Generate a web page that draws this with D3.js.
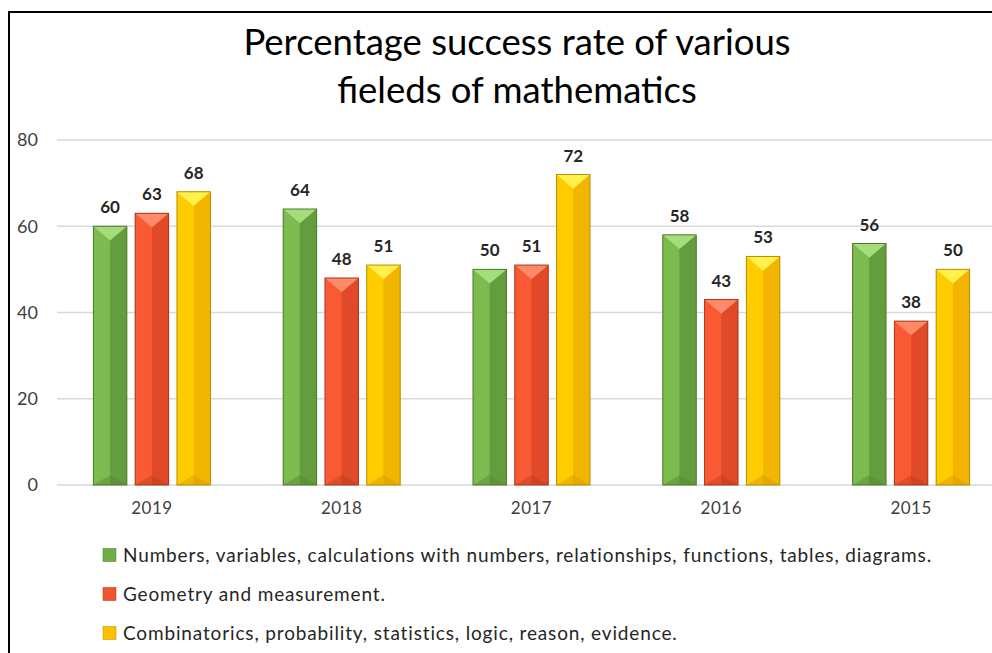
<!DOCTYPE html>
<html>
<head>
<meta charset="utf-8">
<script src="https://cdn.jsdelivr.net/npm/d3@7"></script>
<style>
  body { margin: 0; background: #fff; }
  svg { display: block; }
</style>
</head>
<body>
<div id="chart"></div>
<script>
var width = 992, height = 653;

// data
var years = ["2019", "2018", "2017", "2016", "2015"];
var seriesNames = [
  "Numbers, variables, calculations with numbers, relationships, functions, tables, diagrams.",
  "Geometry and measurement.",
  "Combinatorics, probability, statistics, logic, reason, evidence."
];
var numbersVals = [60, 64, 50, 58, 56];
var geometryVals = [63, 48, 51, 43, 38];
var combiVals = [68, 51, 72, 53, 50];
var yTicks = [0, 20, 40, 60, 80];

var font = "Lato, 'Open Sans', sans-serif";

// bar shades: base, light half, dark half, top bevel, bottom bevel, edge
var palette = [
  { base: "#70ad47", light: "#7cbb4f", dark: "#649d3d", top: "#a5dc7c", bottom: "#52832f", edge: "#4c7a2c" },
  { base: "#f05430", light: "#fa5a33", dark: "#e04a28", top: "#ff8a6a", bottom: "#b63a1c", edge: "#a8361a" },
  { base: "#ffc000", light: "#ffcc00", dark: "#f2b600", top: "#fff04a", bottom: "#cc9600", edge: "#b98c00" }
];

var rows = years.map(function(y, i) {
  return { year: y, values: [numbersVals[i], geometryVals[i], combiVals[i]] };
});

var svg = d3.select("#chart")
  .append("svg")
  .attr("width", width)
  .attr("height", height);

// outer frame (runs off right and bottom edges)
svg.append("rect")
  .attr("x", 9).attr("y", 12)
  .attr("width", 1000).attr("height", 700)
  .attr("fill", "none")
  .attr("stroke", "#000")
  .attr("stroke-width", 2);

// title
var title = svg.append("text")
  .attr("text-anchor", "middle")
  .attr("font-family", font)
  .attr("font-size", 36.5)
  .attr("fill", "#000");
title.append("tspan").attr("x", 517).attr("y", 55).text("Percentage success rate of various");
title.append("tspan").attr("x", 517).attr("y", 103).text("fieleds of mathematics");

var y = d3.scaleLinear().domain([0, 80]).range([485, 140]);
var x0 = d3.scaleBand().domain(years).range([57, 1006]);
var groupW = 117;
var x1 = d3.scaleBand().domain(d3.range(3)).range([0, groupW]).paddingInner(0.2);

// gridlines
svg.append("g")
  .selectAll("line")
  .data(yTicks)
  .enter()
  .append("line")
  .attr("x1", 57).attr("x2", 992)
  .attr("y1", function(d) { return y(d); })
  .attr("y2", function(d) { return y(d); })
  .attr("stroke", "#d9d9d9")
  .attr("stroke-width", 1.5);

// y axis labels
var yAxis = svg.append("g")
  .attr("transform", "translate(38,0)")
  .call(d3.axisLeft(y).tickValues(yTicks).tickSize(0).tickPadding(0));
yAxis.select(".domain").remove();
yAxis.selectAll("text")
  .attr("font-family", font)
  .attr("font-size", 18)
  .attr("fill", "#404040");

// x axis labels
var xAxis = svg.append("g")
  .attr("transform", "translate(0,497)")
  .call(d3.axisBottom(x0).tickSize(0).tickPadding(5));
xAxis.select(".domain").remove();
xAxis.selectAll("text")
  .attr("font-family", font)
  .attr("font-size", 17)
  .attr("letter-spacing", 0.5)
  .attr("fill", "#404040");

// bars
var groups = svg.append("g")
  .selectAll("g")
  .data(rows)
  .enter()
  .append("g")
  .attr("transform", function(d) {
    return "translate(" + (x0(d.year) + (x0.bandwidth() - groupW) / 2) + ",0)";
  });

var bars = groups.selectAll("g")
  .data(function(d) { return d.values.map(function(v, i) { return { v: v, s: i }; }); })
  .enter()
  .append("g")
  .attr("transform", function(d) { return "translate(" + x1(d.s) + "," + y(d.v) + ")"; });

var bw = x1.bandwidth();
var bev = bw / 2;

bars.each(function(d) {
  var g = d3.select(this);
  var h = y(0) - y(d.v);
  var c = palette[d.s];
  var b = Math.min(bev * 0.85, h / 2);
  g.append("rect").attr("width", bw).attr("height", h).attr("fill", c.base);
  g.append("rect").attr("width", bw / 2).attr("height", h).attr("fill", c.light);
  g.append("rect").attr("x", bw / 2).attr("width", bw / 2).attr("height", h).attr("fill", c.dark);
  // top bevel
  g.append("path")
    .attr("d", "M0,0 L" + bw + ",0 L" + (bw / 2) + "," + b + " Z")
    .attr("fill", c.top);
  // bottom bevel
  g.append("path")
    .attr("d", "M0," + h + " L" + bw + "," + h + " L" + (bw / 2) + "," + (h - b * 0.7) + " Z")
    .attr("fill", c.bottom)
    .attr("opacity", 0.4);
  g.append("rect")
    .attr("width", bw).attr("height", h)
    .attr("fill", "none")
    .attr("stroke", c.edge)
    .attr("stroke-width", 1);
  // value label
  g.append("text")
    .attr("x", bw / 2)
    .attr("y", -13)
    .attr("text-anchor", "middle")
    .attr("font-family", font)
    .attr("font-weight", "bold")
    .attr("font-size", 17)
    .attr("fill", "#262626")
    .text(d.v);
});

// legend
var legend = svg.append("g")
  .selectAll("g")
  .data(seriesNames)
  .enter()
  .append("g")
  .attr("transform", function(d, i) { return "translate(103," + (555 + i * 39) + ")"; });

legend.append("rect")
  .attr("x", 0).attr("y", -6.5)
  .attr("width", 13).attr("height", 13)
  .attr("fill", function(d, i) { return palette[i].base; })
  .attr("stroke", function(d, i) { return palette[i].edge; })
  .attr("stroke-width", 0.5);

legend.append("text")
  .attr("x", 20)
  .attr("y", 7)
  .attr("font-family", font)
  .attr("font-size", 19)
  .attr("letter-spacing", 0.85)
  .attr("fill", "#262626")
  .text(function(d) { return d; });
</script>
</body>
</html>
